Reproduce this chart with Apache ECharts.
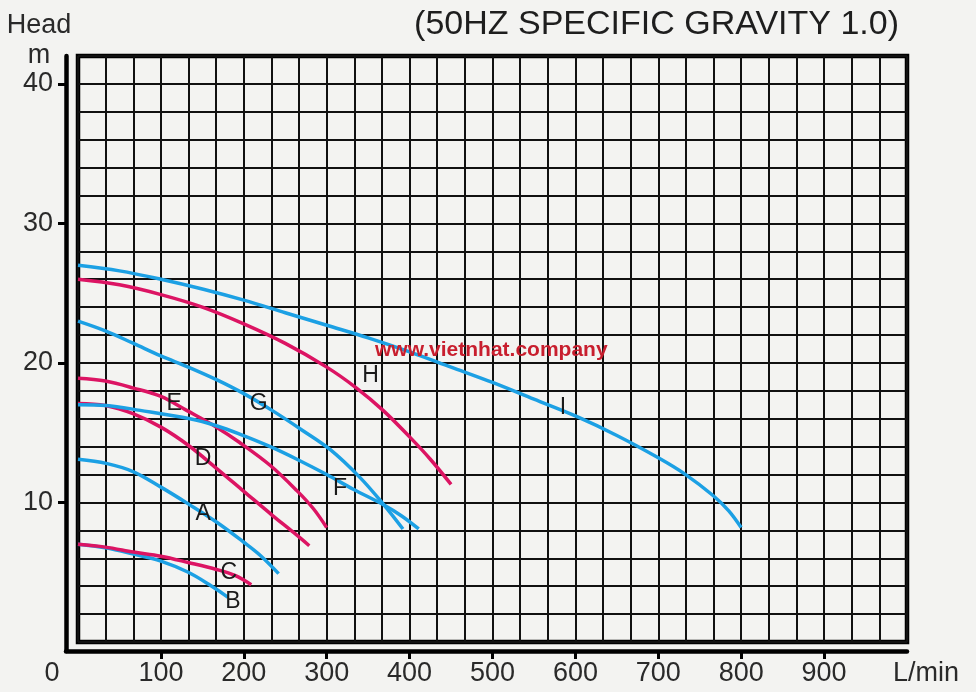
<!DOCTYPE html>
<html><head><meta charset="utf-8">
<script src="https://cdn.jsdelivr.net/npm/echarts@6/dist/echarts.min.js"></script>
<style>html,body{margin:0;padding:0;background:#f3f3f1;}#c{width:976px;height:692px;}</style>
</head><body><div id="c"></div>
<script>
// ---- text ----
const titleText = '(50HZ SPECIFIC GRAVITY 1.0)';
const watermarkText = 'www.vietnhat.company';
const xUnit = 'L/min';
const yName = 'Head';
const yUnit = 'm';
// ---- ticks ----
const xTickValues = [100, 200, 300, 400, 500, 600, 700, 800, 900];
const xLabelValues = [0, 100, 200, 300, 400, 500, 600, 700, 800, 900];
const yTickValues = [10, 20, 30, 40];
// ---- curves [flow L/min, head m] ----
const curveA = [[0,13.1],[34,12.8],[67,12.2],[100,11.1],[133,9.9],[167,8.6],[200,7.15],[220,6.2],[242,4.9]];
const curveB = [[0,7.0],[33,6.75],[67,6.3],[100,5.8],[133,5.0],[160,4.05],[181,3.2]];
const curveC = [[0,7.0],[33,6.8],[67,6.45],[100,6.15],[133,5.7],[167,5.2],[190,4.75],[209,4.1]];
const curveD = [[0,17.1],[33,16.95],[67,16.35],[100,15.4],[133,14.1],[167,12.45],[200,10.8],[234,9.1],[260,7.85],[279,6.9]];
const curveE = [[0,18.9],[33,18.7],[67,18.2],[100,17.6],[131,16.6],[167,15.4],[195,14.3],[232,12.65],[264,10.85],[284,9.55],[300,8.2]];
const curveF = [[0,17.0],[34,16.95],[75,16.6],[135,16.0],[167,15.5],[195,14.9],[232,14.0],[264,13.1],[300,12.0],[332,10.95],[368,9.85],[390,9.05],[411,8.1]];
const curveG = [[0,23.0],[33,22.3],[67,21.4],[100,20.5],[133,19.7],[167,18.8],[200,17.8],[234,16.6],[270,15.2],[304,13.8],[340,11.8],[368,9.9],[392,8.1]];
const curveH = [[0,26.0],[50,25.6],[100,24.9],[150,24.0],[200,22.8],[250,21.4],[300,19.7],[336,18.2],[368,16.6],[400,14.7],[425,13.1],[450,11.3]];
const curveI = [[0,27.0],[50,26.6],[100,26.0],[150,25.3],[200,24.5],[250,23.6],[300,22.7],[350,21.8],[400,20.8],[450,19.7],[500,18.6],[550,17.4],[600,16.2],[650,14.8],[700,13.2],[733,12.0],[766,10.5],[785,9.4],[800,8.2]];
// ---- curve letters [flow, head] ----
const curveLetters = ['A','B','C','D','E','F','G','H','I'];
const curveLetterPos = [[151,9.2],[187,2.9],[182,5.0],[151,13.15],[116,17.1],[316,11.0],[218,17.05],[353,19.1],[585,16.8]];

const BLUE = '#1ca0e4', RED = '#dc1463';
const curves = [
  {name:'A', data:curveA, color:BLUE},
  {name:'B', data:curveB, color:BLUE},
  {name:'C', data:curveC, color:RED},
  {name:'D', data:curveD, color:RED},
  {name:'E', data:curveE, color:RED},
  {name:'F', data:curveF, color:BLUE},
  {name:'G', data:curveG, color:BLUE},
  {name:'H', data:curveH, color:RED},
  {name:'I', data:curveI, color:BLUE}
];

const FONT = 'Liberation Sans, Arial, Helvetica, sans-serif';
const chart = echarts.init(document.getElementById('c'), null, {renderer:'canvas'});

const series = curves.map(c => ({
  type:'line', name:c.name, xAxisIndex:0, yAxisIndex:0,
  data:c.data, smooth:0.35, showSymbol:false, symbol:'none',
  lineStyle:{color:c.color, width:3.5}, itemStyle:{color:c.color},
  z:3, silent:true, animation:false
}));
series.push({
  type:'scatter', xAxisIndex:0, yAxisIndex:0, symbolSize:0.1,
  itemStyle:{color:'#111', opacity:1},
  data: curveLetters.map((n,i) => ({name:n, value:curveLetterPos[i]})),
  label:{show:true, position:'inside', formatter:p=>p.name, fontSize:23, color:'#1a1a1a',
         fontFamily:FONT, textBorderWidth:0, opacity:1},
  z:5, silent:true, animation:false
});

chart.setOption({
  backgroundColor:'#f3f3f1',
  animation:false,
  title:[
    {text:titleText, right:72, top:3, textStyle:{fontFamily:FONT, fontSize:34, fontWeight:'normal', color:'#1e1e1e'}},
    {text:watermarkText, left:370, top:335, textStyle:{fontFamily:FONT, fontSize:21, fontWeight:'bold', color:'#c81e2e'}, z:10}
  ],
  grid:[
    {left:78, right:69, top:56, bottom:50, show:true, borderColor:'#000', borderWidth:4.5, backgroundColor:'transparent'},
    {left:66, right:69, top:56, bottom:41, show:false}
  ],
  xAxis:[
    {type:'value', gridIndex:0, min:0, max:1000, interval:100/3,
     axisLine:{show:false}, axisTick:{show:false}, axisLabel:{show:false},
     splitLine:{show:true, lineStyle:{color:'#111', width:2}}},
    {type:'value', gridIndex:1, min:-14.475, max:1000, position:'bottom',
     axisLine:{show:true, onZero:false, lineStyle:{color:'#000', width:4.5}},
     axisTick:{show:true, customValues:xTickValues, length:8, inside:false, lineStyle:{color:'#000', width:3}},
     axisLabel:{show:true, customValues:xLabelValues, margin:9, fontSize:27, color:'#2a2a2a', fontFamily:FONT,
       formatter: v => v === 0 ? '{z|0}' : String(v),
       rich:{z:{fontSize:27, color:'#2a2a2a', fontFamily:FONT, padding:[0,52,0,0]}}},
     splitLine:{show:false},
     name:xUnit, nameLocation:'end', nameGap:-14,
     nameTextStyle:{fontSize:27, color:'#2a2a2a', fontFamily:FONT, align:'left', verticalAlign:'top', lineHeight:30, padding:[8,0,0,0]}}
  ],
  yAxis:[
    {type:'value', gridIndex:0, min:0, max:42, interval:2,
     axisLine:{show:false}, axisTick:{show:false}, axisLabel:{show:false},
     splitLine:{show:true, lineStyle:{color:'#111', width:2}}},
    {type:'value', gridIndex:1, min:-0.645, max:42, position:'left',
     axisLine:{show:true, onZero:false, lineStyle:{color:'#000', width:4.5}},
     axisTick:{show:true, customValues:yTickValues, length:8, inside:false, lineStyle:{color:'#000', width:3}},
     axisLabel:{show:true, customValues:yTickValues, margin:13, fontSize:27, color:'#2a2a2a', fontFamily:FONT},
     splitLine:{show:false},
     name:yName + '\n' + yUnit, nameLocation:'end', nameGap:-21,
     nameTextStyle:{fontSize:27, color:'#2a2a2a', fontFamily:FONT, align:'center', verticalAlign:'bottom', lineHeight:30, padding:[0,54,0,0]}}
  ],
  series: series
});
</script></body></html>
